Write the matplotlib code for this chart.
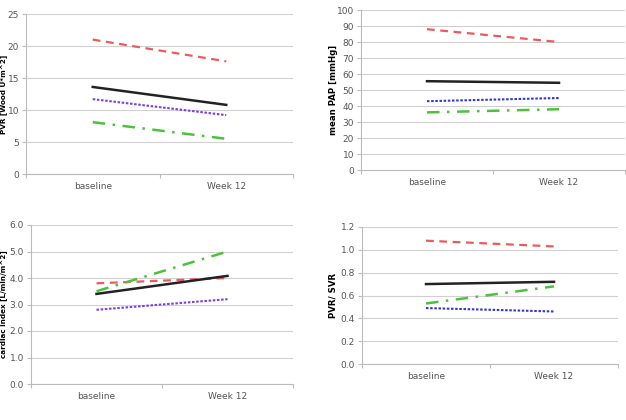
import matplotlib.pyplot as plt

# categories
visits = ["baseline", "Week 12"]

# PVR [Wood U*m^2]
pvr_red = [21.0, 17.6]
pvr_black = [13.6, 10.8]
pvr_blue = [11.7, 9.2]
pvr_green = [8.1, 5.5]

# mean PAP [mmHg]
pap_red = [88, 80]
pap_black = [55.5, 54.5]
pap_blue = [43, 45]
pap_green = [36, 38]

# cardiac index
ci_red = [3.8, 4.0]
ci_black = [3.4, 4.08]
ci_blue = [2.8, 3.2]
ci_green = [3.5, 5.0]

# PVR / SVR
ratio_red = [1.08, 1.03]
ratio_black = [0.70, 0.72]
ratio_blue = [0.49, 0.46]
ratio_green = [0.53, 0.68]

W, H = 626, 420
fig = plt.figure(figsize=(W / 100, H / 100), dpi=100)

def box(l, r, t, b):
    return [l / W, (H - b) / H, (r - l) / W, (b - t) / H]

def panel(rect, series, blue, ymax, step, fmt, label, labx, labsize):
    ax = fig.add_axes(box(*rect))
    xs = [0.5, 1.5]
    red, black, bl, green = series
    ax.plot(xs, red, color="#ee5a5a", ls=(0, (3.5, 2.5)), lw=1.6)
    ax.plot(xs, black, color="#222222", ls="-", lw=1.8)
    ax.plot(xs, bl, color=blue, ls=(0, (1.2, 0.8)), lw=1.5)
    ax.plot(xs, green, color="#4cc23c", ls=(0, (5, 3, 1, 3)), lw=1.8)
    ax.set_xlim(0, 2)
    ax.set_ylim(0, ymax)
    ticks = [i * step for i in range(int(round(ymax / step)) + 1)]
    ax.set_yticks(ticks)
    ax.set_yticklabels([fmt.format(t) for t in ticks])
    ax.set_xticks([0, 1, 2])
    ax.set_xticklabels([])
    ax.set_xticks(xs, minor=True)
    ax.set_xticklabels(visits, minor=True)
    ax.tick_params(axis="x", which="minor", length=0, pad=6)
    ax.tick_params(axis="x", which="major", length=3, color="#bbbbbb")
    ax.tick_params(axis="y", length=3, color="#bbbbbb", pad=2)
    ax.tick_params(which="both", labelsize=6.5, labelcolor="#555555")
    ax.grid(axis="y", color="#d0d0d0", lw=0.8)
    ax.set_axisbelow(True)
    for s in ["top", "right"]:
        ax.spines[s].set_visible(False)
    for s in ["left", "bottom"]:
        ax.spines[s].set_color("#bbbbbb")
    # y label placed in figure pixels
    fig.text(labx / W, 1 - (rect[2] + rect[3]) / 2 / H, label, fontsize=labsize,
             fontweight="bold", rotation=90, ha="center", va="center")
    return ax

panel((26, 293, 14, 174), (pvr_red, pvr_black, pvr_blue, pvr_green), "#7a3fe6",
      25, 5, "{:.0f}", "PVR [Wood U*m^2]", 3.6, 5.2)
panel((361, 625, 10, 170), (pap_red, pap_black, pap_blue, pap_green), "#3535d0",
      100, 10, "{:.0f}", "mean PAP [mmHg]", 333, 6.2)
panel((31, 293, 225, 384), (ci_red, ci_black, ci_blue, ci_green), "#7a3fe6",
      6, 1, "{:.1f}", "cardiac index [L/min/m^2]", 3.6, 5.2)
panel((362, 618, 227, 364), (ratio_red, ratio_black, ratio_blue, ratio_green), "#3535d0",
      1.2, 0.2, "{:.1f}", "PVR/ SVR", 333, 6.2)

fig.savefig("out.png", dpi=100)
